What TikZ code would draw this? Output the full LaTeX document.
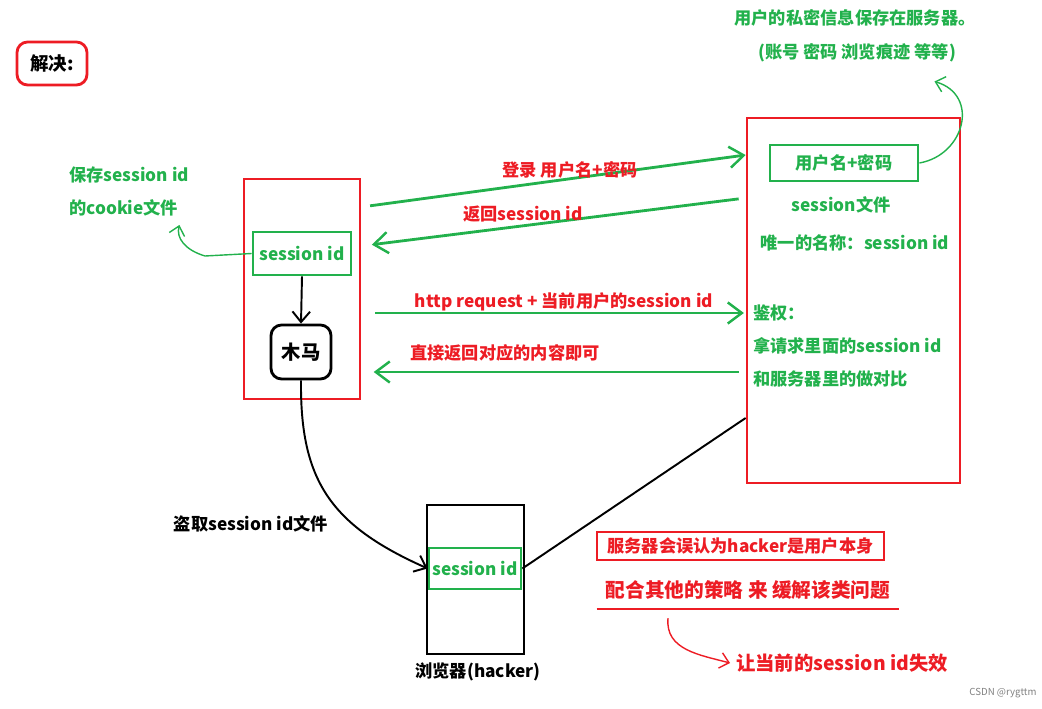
\documentclass[tikz,border=0pt]{standalone}
\usepackage{fontspec}
\setmainfont{Noto Sans CJK SC}
\usepackage{tikz}
\usetikzlibrary{arrows.meta, positioning}
\definecolor{paintgreen}{RGB}{34,177,76}
\definecolor{paintred}{RGB}{237,28,36}

\begin{document}
\begin{tikzpicture}[x=0.02cm, y=-0.02cm, font=\bfseries\fontsize{9.8}{11}\selectfont]
        % Setup the styles for boxes, texts and arrows
        \tikzset{red box/.style={draw=paintred, line width=1.6pt},
                 green box/.style={draw=paintgreen, line width=1.6pt,
                                   text=paintgreen, inner sep=0pt},
                 black box/.style={draw=black, line width=1.6pt, inner sep=0pt},
                 green text/.style={text=paintgreen},
                 red text/.style={text=paintred},
                 green arrow/.style={draw=paintgreen, line width=1.6pt,
                                     -{Straight Barb[length=8pt, width=12pt, line width=1.4pt]}},
                 black arrow/.style={draw=black, line width=1.1pt,
                                     -{Straight Barb[length=6pt, width=10pt, line width=1.1pt]}},
                 thin arrow/.style={line width=0.8pt,
                                    -{Straight Barb[length=5pt, width=9pt, line width=0.8pt]}}}
        \useasboundingbox (0,0) rectangle (1042,709);

        % Draw the title
        \node[red box, rounded corners=6pt, minimum width=1.4cm, minimum height=0.86cm]
            at (52,63.5) (solve) {\fontsize{10.5}{12}\selectfont 解决:};

        % Draw the client side
        \node[red box, minimum width=2.32cm, minimum height=4.4cm] at (302,289) (client) {};
        \node[green box, minimum width=1.96cm, minimum height=0.86cm] at (302,253.5) (sid) {session id};
        \node[black box, rounded corners=6pt, minimum width=1.2cm, minimum height=1.08cm]
            at (301,352) (trojan) {\fontsize{11}{12}\selectfont 木马};
        \node[green text, anchor=west] at (63,175) (cookie1) {保存session id};
        \node[green text, anchor=west] at (63,208) (cookie2) {的cookie文件};

        % Draw the server side
        \node[red box, minimum width=4.26cm, minimum height=7.3cm] at (853.5,300.5) (server) {};
        \node[green box, minimum width=2.96cm, minimum height=0.72cm] at (844,163) (userpw) {用户名+密码};
        \node[green text] at (841,205) (sfile) {session文件};
        \node[green text] at (855,243) (sname) {唯一的名称：session id};
        \node[green text, anchor=west] at (747,313) (auth1) {鉴权：};
        \node[green text, anchor=west] at (747,346) (auth2) {拿请求里面的session id};
        \node[green text, anchor=west] at (747,379) (auth3) {和服务器里的做对比};
        \node[green text] at (855,18) (note1) {用户的私密信息保存在服务器。};
        \node[green text] at (857,53) (note2) {(账号 密码 浏览痕迹 等等)};

        % Draw the hacker side
        \node[black box, minimum width=1.94cm, minimum height=2.98cm] at (475.5,579.5) (hacker) {};
        \node[green box, minimum width=1.84cm, minimum height=0.82cm] at (475,568.5) (hsid) {session id};
        \node at (478,672) (browser) {浏览器(hacker)};
        \node at (251,524) (steal) {盗取session id文件};

        % Draw the notes at the bottom
        \node[draw=paintred, line width=0.8pt, red text, minimum width=5.74cm, minimum height=0.56cm]
            at (740.5,546) (mistake) {服务器会误认为hacker是用户本身};
        \node[red text] at (748,590) (fix) {\fontsize{11.2}{12}\selectfont 配合其他的策略 来 缓解该类问题};
        \node[red text, anchor=west] at (730,663) (expire) {\fontsize{11}{12}\selectfont 让当前的session id失效};
        \node[text=gray, font=\fontsize{5.5}{6}\selectfont] at (1003,693) (mark) {CSDN @rygttm};

        % Connect the boxes with arrows
        \draw[green arrow, shorten <=5pt]
            (client.east |- 0,207) -- (server.west |- 0,155);
        \draw[green arrow, shorten <=4pt, shorten >=6pt]
            (server.west |- 0,198) -- (client.east |- 0,246);
        \draw[green arrow, shorten <=8pt, shorten >=1pt]
            (client.east |- 0,313) -- (server.west |- 0,313);
        \draw[green arrow, shorten <=4pt, shorten >=7pt]
            (server.west |- 0,372) -- (client.east |- 0,372);
        \draw[black arrow] (sid.south) -- (trojan.north);
        \draw[black arrow] (trojan.south) .. controls (300,480) and (330,525) .. (hsid.west);
        \draw[line width=1.1pt] (hsid.east) -- (server.west |- 0,418);
        \draw[green arrow, thin arrow] (userpw.east)
            .. controls (965,155) and (980,95) .. ([xshift=1.55cm, yshift=-0.26cm]note2.south);
        \draw[green arrow, thin arrow] (sid.west) -- (205,256)
            .. controls (185,250) and (176,238) .. ([xshift=-0.1cm, yshift=-0.05cm]cookie2.south east);
        \draw[draw=paintred, line width=1pt] ([xshift=-0.06cm, yshift=-0.07cm]fix.south west)
            -- ([xshift=0.06cm, yshift=-0.07cm]fix.south east);
        \draw[draw=paintred, thin arrow] ([xshift=-1.6cm, yshift=-0.25cm]fix.south)
            .. controls (665,650) and (700,655) .. (expire.west);

        % Labels on the arrows
        \node[red text] at (570,170) (login) {登录 用户名+密码};
        \node[red text] at (523,214) (back) {返回session id};
        \node[red text] at (564,302) (request) {http request + 当前用户的session id};
        \node[red text] at (505,353) (reply) {直接返回对应的内容即可};
\end{tikzpicture}
\end{document}
